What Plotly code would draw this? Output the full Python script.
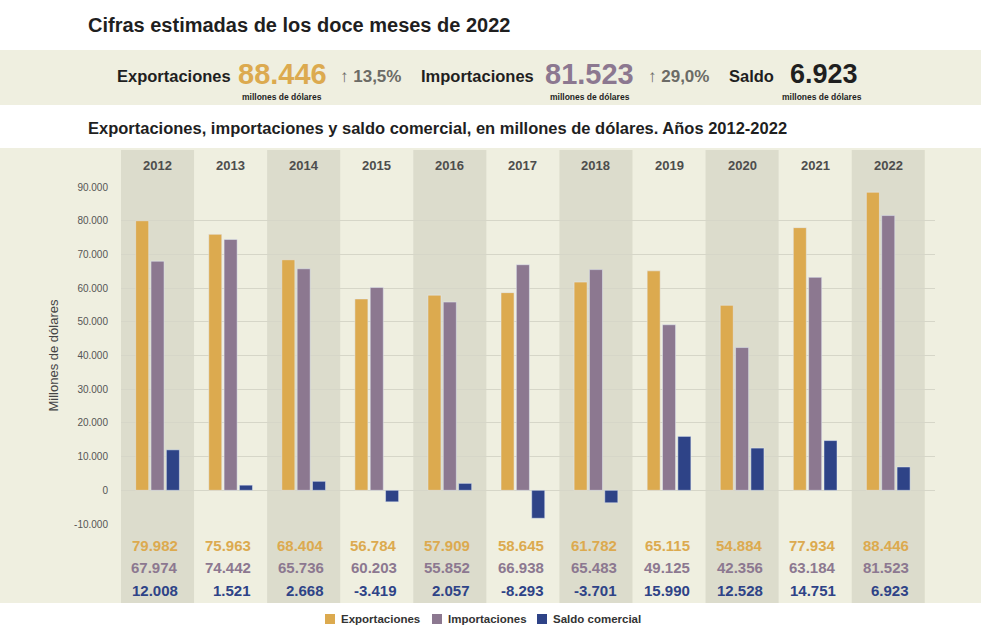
import plotly.graph_objects as go

# datos (millones de dólares)
anios = [2012, 2013, 2014, 2015, 2016, 2017, 2018, 2019, 2020, 2021, 2022]
exportaciones = [79982, 75963, 68404, 56784, 57909, 58645, 61782, 65115, 54884, 77934, 88446]
importaciones = [67974, 74442, 65736, 60203, 55852, 66938, 65483, 49125, 42356, 63184, 81523]
saldo = [12008, 1521, 2668, -3419, 2057, -8293, -3701, 15990, 12528, 14751, 6923]
ticks_y = [-10000, 0, 10000, 20000, 30000, 40000, 50000, 60000, 70000, 80000, 90000]
series = ['Exportaciones', 'Importaciones', 'Saldo comercial']

kpi_export = 88446
kpi_import = 81523
kpi_saldo = 6923
var_export = '13,5%'
var_import = '29,0%'

ORO = '#dcaa4f'
VIOLETA = '#8c7890'
AZUL = '#2e4387'
FONDO = '#efefe0'
FRANJA = '#dcdccc'
TEXTO = '#1f1f1f'

SANS = 'Liberation Sans, Arial, sans-serif'


def miles(v):
    return f'{v:,}'.replace(',', '.')


# zona de trazado en píxeles
L, R, T, B = 121, 935, 187, 524


def px(x):
    return (x - L) / (R - L)


def py(y):
    return (B - y) / (B - T)


fig = go.Figure()
fig.add_trace(go.Bar(x=anios, y=exportaciones, name=series[0], marker_color=ORO))
fig.add_trace(go.Bar(x=anios, y=importaciones, name=series[1], marker_color=VIOLETA))
fig.add_trace(go.Bar(x=anios, y=saldo, name=series[2], marker_color=AZUL))

shapes = [
    dict(type='rect', xref='paper', yref='paper', x0=px(0), x1=px(981),
         y0=py(105), y1=py(50), fillcolor=FONDO, line_width=0, layer='below'),
    dict(type='rect', xref='paper', yref='paper', x0=px(0), x1=px(981),
         y0=py(603), y1=py(148), fillcolor=FONDO, line_width=0, layer='below'),
]
for i, a in enumerate(anios):
    if i % 2 == 0:
        shapes.append(dict(type='rect', xref='x', yref='paper', x0=a - 0.5, x1=a + 0.5,
                           y0=py(603), y1=py(150), fillcolor=FRANJA, line_width=0,
                           layer='below'))

ann = []
# títulos
ann.append(dict(text='<b>Cifras estimadas de los doce meses de 2022</b>', x=px(86), y=py(25),
                xanchor='left', font=dict(family=SANS, size=20, color=TEXTO)))
ann.append(dict(text='<b>Exportaciones, importaciones y saldo comercial, en millones de dólares. '
                     'Años 2012-2022</b>', x=px(86), y=py(128),
                xanchor='left', font=dict(family=SANS, size=16.5, color=TEXTO)))


# franja de cifras
def kpi(etiqueta, x_et, valor, x_val, color, x_sub, tam, var=None, x_var=None):
    ann.append(dict(text=f'<b>{etiqueta}</b>', x=px(x_et), y=py(76), xanchor='left',
                    font=dict(family=SANS, size=16.5, color=TEXTO)))
    ann.append(dict(text=f'<b>{miles(valor)}</b>', x=px(x_val), y=py(74), xanchor='left',
                    font=dict(family=SANS, size=tam, color=color)))
    ann.append(dict(text='<b>millones de dólares</b>', x=px(x_sub), y=py(97), xanchor='center',
                    font=dict(family=SANS, size=8.5, color=TEXTO)))
    if var:
        ann.append(dict(text=f'↑ <b>{var}</b>', x=px(x_var), y=py(76), xanchor='left',
                        font=dict(family=SANS, size=17, color='#6b6b66')))


kpi('Exportaciones', 115, kpi_export, 236, ORO, 282, 29, var_export, 338)
kpi('Importaciones', 419, kpi_import, 543, VIOLETA, 590, 29, var_import, 646)
kpi('Saldo', 727, kpi_saldo, 788, TEXTO, 822, 27)

# años y tabla
for i, a in enumerate(anios):
    ann.append(dict(text=f'<b>{a}</b>', x=a, xref='x', y=py(165), xanchor='center',
                    font=dict(family=SANS, size=13, color='#4d4d4d')))
    for serie, color, yy in ((exportaciones, ORO, 545), (importaciones, VIOLETA, 567),
                             (saldo, AZUL, 590)):
        ann.append(dict(text=f'<b>{miles(serie[i])}</b>', x=a + 0.31, xref='x', y=py(yy),
                        xanchor='right', font=dict(family=SANS, size=15, color=color)))

# leyenda inferior
for nombre, color, x_cuadro in zip(series, (ORO, VIOLETA, AZUL), (325, 432, 537)):
    shapes.append(dict(type='rect', xref='paper', yref='paper', x0=px(x_cuadro),
                       x1=px(x_cuadro + 10), y0=py(624), y1=py(614), fillcolor=color,
                       line_width=0))
    ann.append(dict(text=f'<b>{nombre}</b>', x=px(x_cuadro + 14), y=py(619), xanchor='left',
                    font=dict(family=SANS, size=11.5, color='#333333')))

for d in ann:
    d.setdefault('xref', 'paper')
    d['yref'] = 'paper'
    d['showarrow'] = False
    d['yanchor'] = 'middle'

fig.update_layout(
    width=981, height=625,
    margin=dict(l=L, r=981 - R, t=T, b=625 - B, pad=0),
    paper_bgcolor='white', plot_bgcolor='rgba(0,0,0,0)',
    barmode='group', bargap=0.37, bargroupgap=0.15,
    shapes=shapes, annotations=ann,
    showlegend=False,
    font=dict(family=SANS),
)
fig.update_xaxes(range=[2011.5, 2022.64], showticklabels=False, showgrid=False,
                 zeroline=False, fixedrange=True)
fig.update_yaxes(range=[-10000, 90000], tickvals=ticks_y, ticktext=[miles(v) for v in ticks_y],
                 showgrid=True, gridcolor='#d6d6c8', gridwidth=1, zeroline=False,
                 ticks='', ticklabelstandoff=12, fixedrange=True,
                 tickfont=dict(family=SANS, size=10, color='#555555'),
                 title=dict(text='Millones de dólares', standoff=12,
                            font=dict(family=SANS, size=13, color='#444444')))

fig.write_html('out.html', config={'displayModeBar': False},
               post_script="document.body.style.margin = '0px';")
